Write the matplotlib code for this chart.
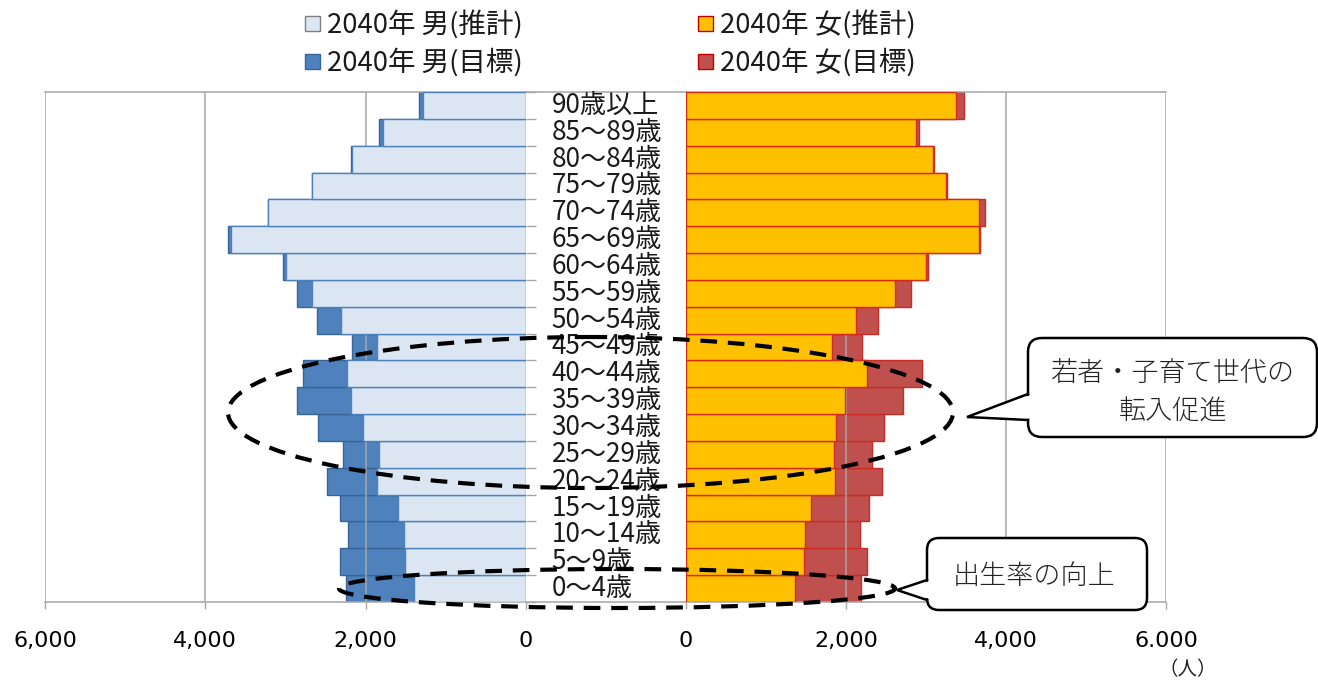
import matplotlib
matplotlib.use("Agg")
import matplotlib.pyplot as plt
from matplotlib.patches import Ellipse, FancyBboxPatch, Rectangle, Polygon
import numpy as np

plt.rcParams['font.family'] = ['Noto Sans CJK JP', 'DejaVu Sans']

# ---------------- data (bottom -> top) ----------------
ages = ["0～4歳", "5～9歳", "10～14歳", "15～19歳", "20～24歳", "25～29歳",
        "30～34歳", "35～39歳", "40～44歳", "45～49歳", "50～54歳", "55～59歳",
        "60～64歳", "65～69歳", "70～74歳", "75～79歳", "80～84歳", "85～89歳",
        "90歳以上"]
male_est = [1397, 1509, 1522, 1597, 1863, 1830, 2029, 2187, 2237, 1863,
            2312, 2665, 2998, 3680, 3222, 2665, 2174, 1788, 1289]
male_target = [2245, 2316, 2220, 2316, 2482, 2279, 2599, 2856, 2778, 2166,
               2611, 2852, 3027, 3717, 3222, 2665, 2180, 1830, 1331]
female_est = [1363, 1472, 1488, 1568, 1867, 1846, 1880, 1983, 2258, 1830,
              2129, 2615, 2994, 3659, 3659, 3252, 3085, 2877, 3376]
female_target = [2192, 2262, 2170, 2283, 2449, 2320, 2470, 2711, 2952, 2204,
                 2395, 2807, 3027, 3680, 3742, 3260, 3098, 2910, 3480]
left_ticks = [6000, 4000, 2000, 0]
left_tick_labels = ["6,000", "4,000", "2,000", "0"]
right_ticks = [0, 2000, 4000, 6000]
right_tick_labels = ["0", "2,000", "4,000", "6.000"]
legend_labels = ["2040年 男(推計)", "2040年 男(目標)", "2040年 女(推計)", "2040年 女(目標)"]

# ---------------- style ----------------
W, H = 1318, 680
GRID = "#A6A6A6"
M_EST_FC, M_EST_EC = "#DCE6F2", "#4F81BD"
M_TGT_FC, M_TGT_EC = "#4F81BD", "#3A6496"
F_EST_FC, F_EST_EC = "#FFC000", "#D42A1E"
F_TGT_FC, F_TGT_EC = "#C0504D", "#CC2A24"

fig = plt.figure(figsize=(W / 100, H / 100), dpi=100)

def frac(x0, y0, x1, y1):
    return [x0 / W, 1 - y1 / H, (x1 - x0) / W, (y1 - y0) / H]

TOP, BOT = 92, 602
ax_l = fig.add_axes(frac(45, TOP, 526, BOT))
ax_m = fig.add_axes(frac(526, TOP, 686, BOT))
ax_r = fig.add_axes(frac(686, TOP, 1166, BOT))

y = np.arange(len(ages))
n = len(ages)

for ax, tgt, est, tfc, tec, efc, eec in [
        (ax_l, male_target, male_est, M_TGT_FC, M_TGT_EC, M_EST_FC, M_EST_EC),
        (ax_r, female_target, female_est, F_TGT_FC, F_TGT_EC, F_EST_FC, F_EST_EC)]:
    ax.barh(y, tgt, height=1.0, color=tfc, edgecolor=tec, linewidth=1.0, zorder=1)
    ax.barh(y, est, height=1.0, color=efc, edgecolor=eec, linewidth=1.0, zorder=3)
    ax.set_ylim(-0.5, n - 0.5)
    ax.set_axisbelow(False)
    ax.grid(axis='x', color=GRID, linewidth=1.1, zorder=2)
    ax.grid(axis='y', visible=False)
    for s in ['left', 'right']:
        ax.spines[s].set_visible(False)
    for s in ['top', 'bottom']:
        ax.spines[s].set_color(GRID)
        ax.spines[s].set_linewidth(1.1)
    ax.tick_params(axis='x', length=5, width=1.0, color=GRID, pad=16,
                   labelsize=16, labelcolor='black')
    ax.set_facecolor('none')

ax_l.set_xlim(6000, 0)
ax_l.set_xticks(left_ticks)
ax_l.set_xticklabels(left_tick_labels, family='DejaVu Sans')
ax_r.set_xlim(0, 6000)
ax_r.set_xticks(right_ticks)
ax_r.set_xticklabels(right_tick_labels, family='DejaVu Sans')

# small ticks at category boundaries on the male axis (pointing into middle)
ax_l.yaxis.set_ticks_position('right')
ax_l.set_yticks(np.arange(-0.5, n, 1.0))
ax_l.set_yticklabels([])
ax_l.tick_params(axis='y', which='major', right=True, left=False, length=7,
                 width=1.0, color=GRID, direction='out')
ax_r.set_yticks([])

# middle axis with age labels
ax_m.set_xlim(0, 1)
ax_m.set_ylim(-0.5, n - 0.5)
ax_m.set_xticks([])
ax_m.set_yticks([])
for s in ['left', 'right']:
    ax_m.spines[s].set_visible(False)
for s in ['top', 'bottom']:
    ax_m.spines[s].set_color(GRID)
    ax_m.spines[s].set_linewidth(1.1)
ax_m.set_facecolor('none')
for yi, lab in zip(y, ages):
    ax_m.text(0.16, yi, lab, ha='left', va='center', fontsize=18.8, color='#1a1a1a')

# ---------------- overlay (legend, annotations) ----------------
ov = fig.add_axes([0, 0, 1, 1], zorder=10)
ov.set_xlim(0, W)
ov.set_ylim(H, 0)
ov.axis('off')
ov.patch.set_alpha(0)

# legend
leg_items = [
    (305, 23, M_EST_FC, "#7F7F7F", legend_labels[0]),
    (305, 61, M_TGT_FC, M_TGT_EC, legend_labels[1]),
    (698, 23, F_EST_FC, "#C00000", legend_labels[2]),
    (698, 61, F_TGT_FC, "#C00000", legend_labels[3]),
]
for x0, yc, fc, ec, lab in leg_items:
    ov.add_patch(Rectangle((x0, yc - 7.5), 15, 15, facecolor=fc, edgecolor=ec,
                           linewidth=1.0))
    ov.text(x0 + 22, yc + 1, lab, ha='left', va='center', fontsize=19.8,
            color='#1a1a1a')

# dashed ellipses
dash = (0, (4, 2.6))
ov.add_patch(Ellipse((590.5, 412.5), 725, 151, fill=False, edgecolor='black',
                     linewidth=3, linestyle=dash))
ov.add_patch(Ellipse((617, 588.5), 556, 39, fill=False, edgecolor='black',
                     linewidth=3, linestyle=dash))

def callout(x0, y0, x1, y1, tip, b_top, b_bot, r=14):
    box = FancyBboxPatch((x0, y0), x1 - x0, y1 - y0,
                         boxstyle="round,pad=0,rounding_size=%g" % r,
                         facecolor='white', edgecolor='black', linewidth=1.8,
                         zorder=5)
    ov.add_patch(box)
    ov.add_patch(Polygon([tip, (x0 + 2.5, b_top + 1.2), (x0 + 2.5, b_bot - 1.2)],
                         closed=True, facecolor='white', edgecolor='none',
                         zorder=6))
    ov.plot([x0, tip[0], x0], [b_top, tip[1], b_bot], color='black',
            linewidth=1.8, zorder=7, solid_joinstyle='miter')

callout(1028, 338, 1317, 437, (967, 417), 394, 420)
ov.text(1173, 374, "若者・子育て世代の", ha='center', va='center', fontsize=19.5,
        color='#222222', zorder=8, fontweight='light')
ov.text(1173, 412, "転入促進", ha='center', va='center', fontsize=19.5,
        color='#222222', zorder=8, fontweight='light')

callout(927, 538, 1147, 610, (897, 590), 580, 600, r=12)
ov.text(1034, 576, "出生率の向上", ha='center', va='center', fontsize=19.5,
        color='#222222', zorder=8, fontweight='light')

ov.text(1188, 670, "（人）", ha='center', va='center', fontsize=14, color='#222222')

fig.savefig("out.png", dpi=100)
